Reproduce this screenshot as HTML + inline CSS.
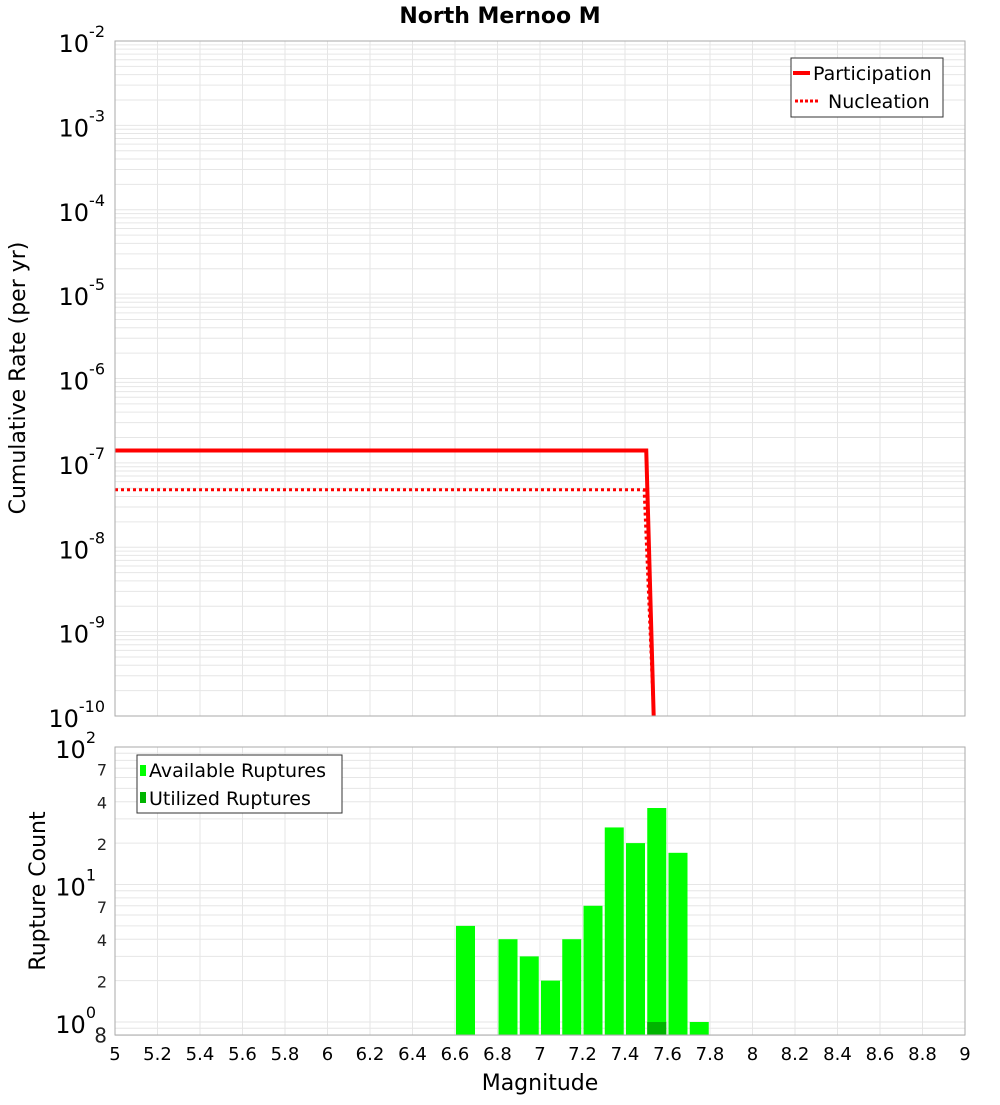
<!DOCTYPE html>
<html><head><meta charset="utf-8"><style>
body{margin:0;background:#fff;font-family:"Liberation Sans","DejaVu Sans",sans-serif;}
svg text{font-family:"DejaVu Sans","Liberation Sans",sans-serif;}
</style></head><body>
<svg id="chart" width="1000" height="1100" xmlns="http://www.w3.org/2000/svg">
<text x="500" y="23" text-anchor="middle" font-size="22" font-weight="bold">North Mernoo M</text>
<g id="topg"></g><g id="botg"></g>
<text transform="translate(25,378) rotate(-90)" text-anchor="middle" font-size="22">Cumulative Rate (per yr)</text>
<text transform="translate(45,891) rotate(-90)" text-anchor="middle" font-size="22">Rupture Count</text>
<text x="540" y="1090" text-anchor="middle" font-size="22">Magnitude</text>
</svg>
<script>
const partMags=[5.0,7.5,7.535];
const partRates=[1.4e-7,1.4e-7,1e-10];
const nuclMags=[5.0,7.49,7.535];
const nuclRates=[4.8e-8,4.8e-8,1e-10];
const binMags=[6.65,6.85,6.95,7.05,7.15,7.25,7.35,7.45,7.55,7.65,7.75];
const availCounts=[5,4,3,2,4,7,26,20,36,17,1];
const usedMags=[7.55];
const usedCounts=[1];
const xTicks=["5","5.2","5.4","5.6","5.8","6","6.2","6.4","6.6","6.8","7","7.2","7.4","7.6","7.8","8","8.2","8.4","8.6","8.8","9"];
const topDecades=[-2,-3,-4,-5,-6,-7,-8,-9,-10];

const NS="http://www.w3.org/2000/svg";
const L=115,R=965;
function X(m){return L+(m-5)*(R-L)/4;}
const T0=41,T1=716;
function Yt(v){return T0+(-2-Math.log10(v))*(T1-T0)/8;}
const B0=747,B1=1035,BD=137.5;
function Yb(v){return B0+(2-Math.log10(v))*BD;}
function el(tag,attrs,parent){const e=document.createElementNS(NS,tag);for(const k in attrs)e.setAttribute(k,attrs[k]);parent.appendChild(e);return e;}
const topG=document.getElementById('topg'),botG=document.getElementById('botg');

el('rect',{x:L,y:T0,width:R-L,height:T1-T0,fill:'#fff'},topG);
for(let d=-10;d<-2;d++){for(let k=1;k<10;k++){const y=Yt(k*Math.pow(10,d));const g=el('line',{x1:L,x2:R,y1:y,y2:y,stroke:'#e6e6e6','stroke-width':1},topG);}}
xTicks.forEach(t=>{const x=X(+t);const g=el('line',{x1:x,x2:x,y1:T0,y2:T1,stroke:'#e6e6e6'},topG);});
topDecades.forEach(d=>{const y=Yt(Math.pow(10,d));const t=el('text',{x:L-10,y:y+11,'text-anchor':'end','font-size':24},topG);t.textContent='10';const s=el('tspan',{dy:-15,'font-size':16},t);s.textContent=String(d);});
const clipDef=el('clipPath',{id:'tc'},topG);el('rect',{x:L,y:T0,width:R-L,height:T1-T0},clipDef);
function pts(ms,vs){return ms.map((m,i)=>X(m)+','+Yt(vs[i])).join(' ');}
const p1=el('polyline',{points:pts(partMags,partRates),fill:'none',stroke:'#ff0000','stroke-width':4,'clip-path':'url(#tc)'},topG);

const p2=el('polyline',{points:pts(nuclMags,nuclRates),fill:'none',stroke:'#ff0000','stroke-width':3,'stroke-dasharray':'3,3','clip-path':'url(#tc)'},topG);

el('rect',{x:L,y:T0,width:R-L,height:T1-T0,fill:'none',stroke:'#aaa'},topG);
const lg=el('g',{},topG);
el('rect',{x:791,y:58,width:152,height:59,fill:'#fff',stroke:'#333'},lg);
el('line',{x1:793,x2:810,y1:73,y2:73,stroke:'#f00','stroke-width':4},lg);
el('line',{x1:795,x2:820,y1:101,y2:101,stroke:'#f00','stroke-width':3,'stroke-dasharray':'3,2'},lg);
let t1=el('text',{x:813,y:80,'font-size':19},lg);t1.textContent='Participation';
let t2=el('text',{x:828,y:108,'font-size':19},lg);t2.textContent='Nucleation';

el('rect',{x:L,y:B0,width:R-L,height:B1-B0,fill:'#fff'},botG);
[0.8,0.9,1,2,3,4,5,6,7,8,9,10,20,30,40,50,60,70,80,90].forEach(v=>{const y=Yb(v);const g=el('line',{x1:L,x2:R,y1:y,y2:y,stroke:'#e6e6e6'},botG);});
xTicks.forEach(t=>{const x=X(+t);const g=el('line',{x1:x,x2:x,y1:B0,y2:B1,stroke:'#e6e6e6'},botG);
const lb=el('text',{x:x,y:1060,'text-anchor':'middle','font-size':18},botG);lb.textContent=t;});
const clipB=el('clipPath',{id:'bc'},botG);el('rect',{x:L,y:B0,width:R-L,height:B1-B0},clipB);
binMags.forEach((m,i)=>{const y=Yb(availCounts[i]);const r=el('rect',{x:X(m-0.05)+1,y:y,width:19,height:B1-y,fill:'#00ff00','clip-path':'url(#bc)'},botG);});
usedMags.forEach((m,i)=>{const y=Yb(usedCounts[i]);const r=el('rect',{x:X(m-0.05)+1,y:y,width:19,height:B1-y,fill:'#00b400','clip-path':'url(#bc)'},botG);});
el('rect',{x:L,y:B0,width:R-L,height:B1-B0,fill:'none',stroke:'#aaa'},botG);
[[100,'2'],[10,'1'],[1,'0']].forEach(([v,e])=>{const y=Yb(v);const t=el('text',{x:96,y:y+11,'text-anchor':'end','font-size':24},botG);t.textContent='10';const s=el('tspan',{dy:-15,'font-size':16},t);s.textContent=e;});
[[70,'7'],[40,'4'],[20,'2'],[7,'7'],[4,'4'],[2,'2'],[0.8,'8']].forEach(([v,l])=>{const y=Yb(v);const t=el('text',{x:107,y:y+7,'text-anchor':'end','font-size':v===0.8?20:16,fill:'#222'},botG);t.textContent=l;});
const lg2=el('g',{},botG);
el('rect',{x:137,y:755,width:205,height:58,fill:'#fff',stroke:'#333'},lg2);
el('rect',{x:140,y:765,width:6,height:11,fill:'#00ff00'},lg2);
el('rect',{x:140,y:792,width:6,height:11,fill:'#00b400'},lg2);
let t3=el('text',{x:149,y:777,'font-size':19},lg2);t3.textContent='Available Ruptures';
let t4=el('text',{x:149,y:805,'font-size':19},lg2);t4.textContent='Utilized Ruptures';
</script>
</body></html>
